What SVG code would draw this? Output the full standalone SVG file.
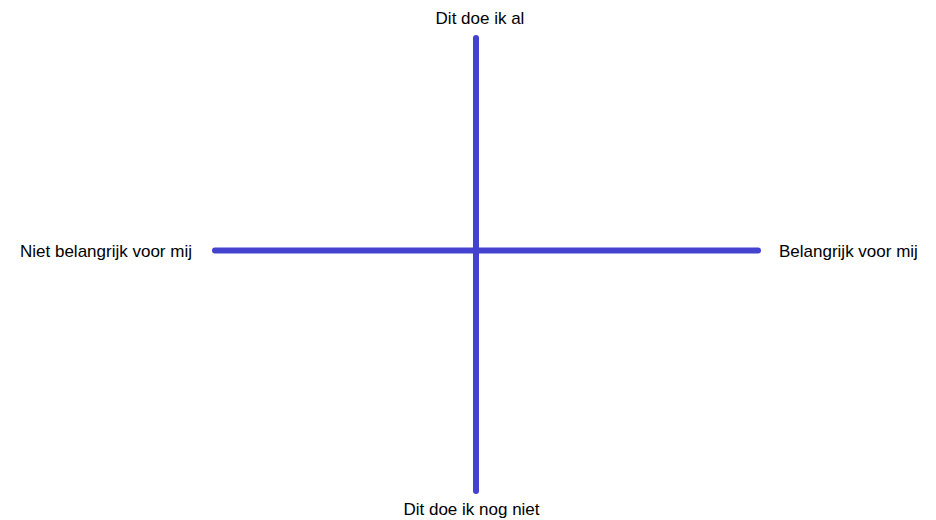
<svg xmlns="http://www.w3.org/2000/svg" width="936" height="520" viewBox="0 0 936 520">
<style>
.axis{stroke:#4343cf;stroke-width:6;stroke-linecap:round;fill:none}
.lbl{font-family:"Liberation Sans",Arial,sans-serif;font-size:17px;fill:#000}
</style>
<rect width="936" height="520" fill="#fff"/>
<g id="connectors">
<line class="axis" x1="476" y1="38" x2="476" y2="491"/>
<line class="axis" x1="215" y1="250.5" x2="758" y2="250.5"/>
</g>
<g id="top"><text class="lbl" x="480" y="24" text-anchor="middle">Dit doe ik al</text></g>
<g id="left"><text class="lbl" x="20" y="257">Niet belangrijk voor mij</text></g>
<g id="right"><text class="lbl" x="779" y="257">Belangrijk voor mij</text></g>
<g id="bottom"><text class="lbl" x="471.5" y="515" text-anchor="middle">Dit doe ik nog niet</text></g>
</svg>
